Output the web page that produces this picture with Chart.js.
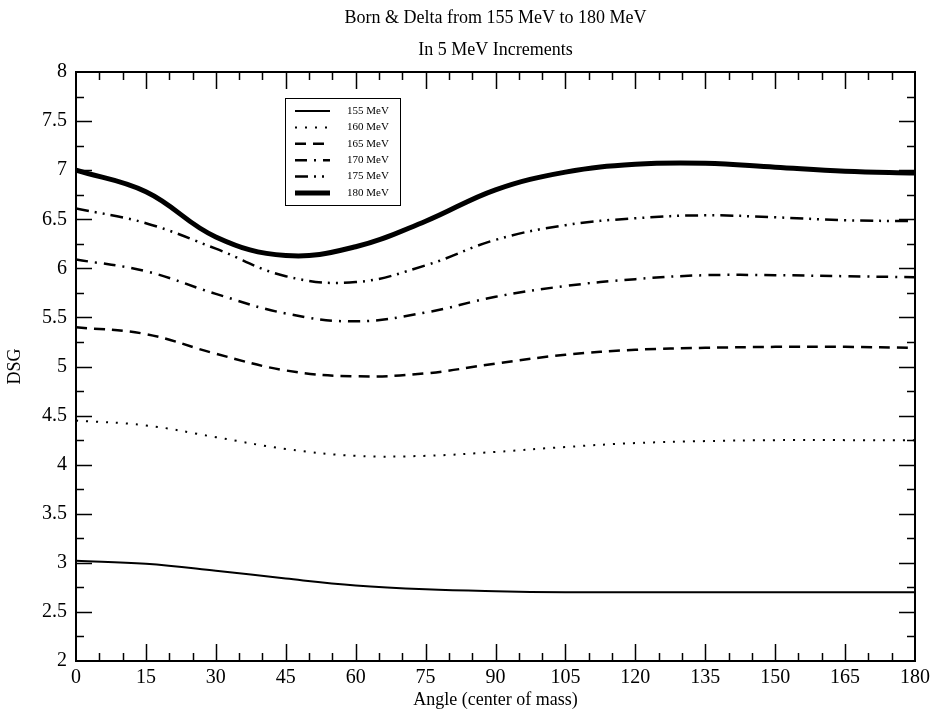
<!DOCTYPE html>
<html>
<head>
<meta charset="utf-8">
<script src="https://cdn.jsdelivr.net/npm/chart.js@4.4.0/dist/chart.umd.min.js"></script>
<style>
  html, body { margin: 0; padding: 0; background: #fff; }
  #wrap { width: 938px; height: 719px; }
</style>
</head>
<body>
<div id="wrap"><canvas id="dsg"></canvas></div>
<script>
const angles = [0, 15, 30, 45, 60, 75, 90, 105, 120, 135, 150, 165, 180];
const mev155 = [3.02, 2.99, 2.92, 2.84, 2.77, 2.73, 2.71, 2.70, 2.70, 2.70, 2.70, 2.70, 2.70];
const mev160 = [4.45, 4.40, 4.28, 4.16, 4.09, 4.09, 4.13, 4.18, 4.22, 4.24, 4.25, 4.25, 4.25];
const mev165 = [5.40, 5.33, 5.13, 4.96, 4.90, 4.93, 5.03, 5.12, 5.17, 5.19, 5.20, 5.20, 5.19];
const mev170 = [6.09, 5.97, 5.74, 5.54, 5.46, 5.55, 5.71, 5.82, 5.89, 5.93, 5.93, 5.92, 5.91];
const mev175 = [6.61, 6.46, 6.20, 5.92, 5.86, 6.03, 6.29, 6.44, 6.51, 6.54, 6.52, 6.49, 6.48];
const mev180 = [7.00, 6.78, 6.32, 6.13, 6.22, 6.48, 6.80, 6.98, 7.06, 7.07, 7.03, 6.99, 6.97];
const seriesLabels = ['155 MeV', '160 MeV', '165 MeV', '170 MeV', '175 MeV', '180 MeV'];

const serif = '"Liberation Serif", "Times New Roman", serif';

const pts = vals => angles.map((a, i) => ({ x: a, y: vals[i] }));

function ds(label, vals, width, dash) {
    return {
        label: label,
        data: pts(vals),
        borderColor: '#000',
        borderWidth: width,
        borderDash: dash,
        borderCapStyle: 'butt',
        pointRadius: 0,
        tension: 0.4,
        fill: false
    };
}

// inward ticks on all four sides + frame
const frameTicks = {
    id: 'frameTicks',
    afterDatasetsDraw(chart) {
        const { ctx, chartArea: a, scales: { x, y } } = chart;
        ctx.save();
        ctx.strokeStyle = '#000';
        ctx.lineWidth = 1.5;
        ctx.beginPath();
        for (let v = 5; v < 180; v += 5) {
            const px = Math.round(x.getPixelForValue(v)) + 0.5;
            const len = v % 15 === 0 ? 17 : 8;
            ctx.moveTo(px, a.bottom); ctx.lineTo(px, a.bottom - len);
            ctx.moveTo(px, a.top); ctx.lineTo(px, a.top + len);
        }
        for (let v = 2.25; v < 8; v += 0.25) {
            const py = Math.round(y.getPixelForValue(v)) + 0.5;
            const len = Math.abs(v * 2 - Math.round(v * 2)) < 1e-6 ? 16 : 8;
            ctx.moveTo(a.left, py); ctx.lineTo(a.left + len, py);
            ctx.moveTo(a.right, py); ctx.lineTo(a.right - len, py);
        }
        ctx.stroke();
        ctx.lineWidth = 2;
        ctx.strokeRect(a.left, a.top, a.right - a.left, a.bottom - a.top);
        ctx.restore();
    }
};

// legend box inside the plot
const boxLegend = {
    id: 'boxLegend',
    afterDraw(chart) {
        const { ctx, chartArea: a } = chart;
        const left = a.left + 209, top = a.top + 26;
        ctx.save();
        ctx.fillStyle = '#fff';
        ctx.fillRect(left, top, 115, 107);
        ctx.strokeStyle = '#000';
        ctx.lineWidth = 1;
        ctx.strokeRect(left + 0.5, top + 0.5, 115, 107);
        ctx.font = '11px ' + serif;
        ctx.textBaseline = 'middle';
        ctx.fillStyle = '#000';
        chart.data.datasets.forEach((d, i) => {
            const yy = top + 13 + i * 16.4;
            ctx.beginPath();
            ctx.lineWidth = d.borderWidth;
            ctx.setLineDash(d.borderDash || []);
            ctx.moveTo(left + 10, yy);
            ctx.lineTo(left + 45, yy);
            ctx.stroke();
            ctx.setLineDash([]);
            ctx.fillText(d.label, left + 62, yy);
        });
        ctx.restore();
    }
};

const ctx = document.getElementById('dsg').getContext('2d');
const chart = new Chart(ctx, {
    type: 'line',
    data: {
        datasets: [
            ds(seriesLabels[0], mev155, 2, []),
            ds(seriesLabels[1], mev160, 2, [2, 8]),
            ds(seriesLabels[2], mev165, 2.5, [11, 7]),
            ds(seriesLabels[3], mev170, 2.5, [12, 7, 2, 7]),
            ds(seriesLabels[4], mev175, 2.5, [13, 6, 2, 6, 2, 6]),
            ds(seriesLabels[5], mev180, 5, [])
        ]
    },
    options: {
        responsive: true,
        maintainAspectRatio: false,
        animation: false,
        layout: { padding: { left: 0, right: 23, top: 0, bottom: 4 } },
        plugins: {
            legend: { display: false },
            tooltip: { enabled: false },
            title: {
                display: true,
                fullSize: false,
                text: ['Born & Delta from 155 MeV to 180 MeV', 'In 5 MeV Increments'],
                color: '#000',
                font: { family: serif, size: 18, weight: 'normal', lineHeight: 32 / 18 },
                padding: { top: 2, bottom: 6 }
            }
        },
        scales: {
            x: {
                type: 'linear',
                min: 0,
                max: 180,
                grid: { display: false, drawTicks: false },
                border: { display: false },
                ticks: { stepSize: 15, color: '#000', padding: 5, maxRotation: 0, font: { family: serif, size: 20 } },
                title: { display: true, text: 'Angle (center of mass)', color: '#000', font: { family: serif, size: 18 }, padding: { top: 0, bottom: 4 } },
                afterFit(s) { s.height = 54; }
            },
            y: {
                min: 2,
                max: 8,
                grid: { display: false, drawTicks: false },
                border: { display: false },
                ticks: {
                    stepSize: 0.5, color: '#000', padding: 9, font: { family: serif, size: 20 },
                    callback: v => String(Math.round(v * 10) / 10)
                },
                title: { display: true, text: 'DSG', color: '#000', font: { family: serif, size: 18 }, padding: { top: 4, bottom: 0 } },
                afterFit(s) { s.width = 76; }
            }
        }
    },
    plugins: [frameTicks, boxLegend]
});
</script>
</body>
</html>
